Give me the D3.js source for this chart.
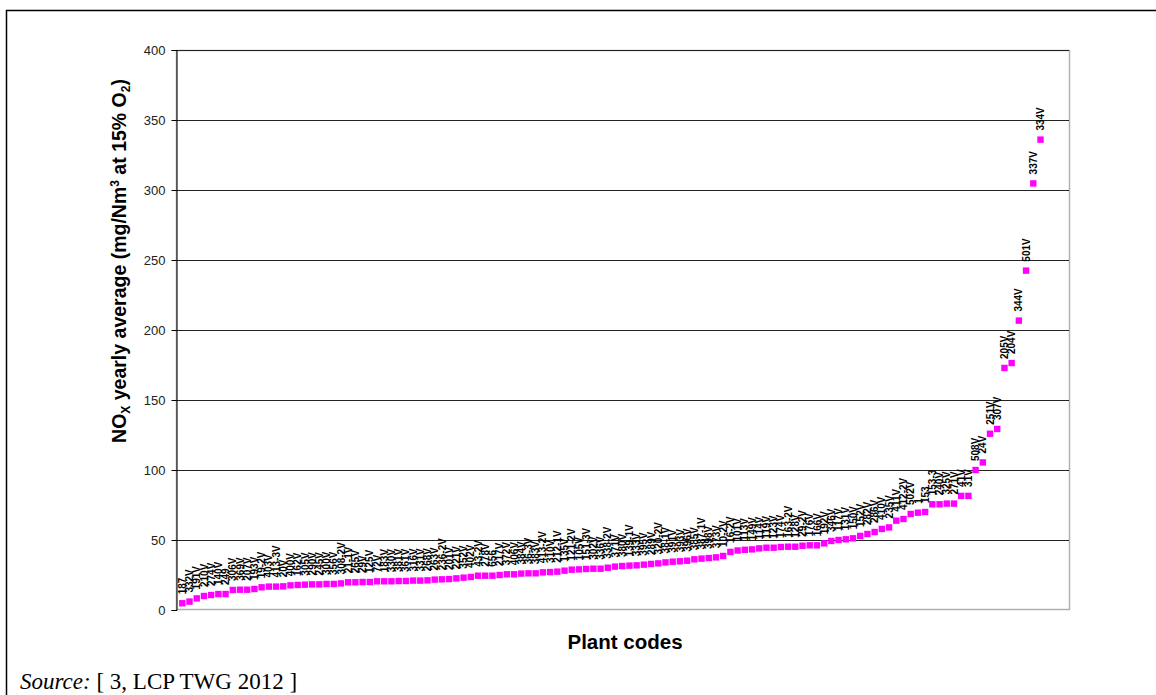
<!DOCTYPE html>
<html>
<head>
<meta charset="utf-8">
<script src="https://cdn.jsdelivr.net/npm/d3@7"></script>
<style>
  body { margin: 0; background: #fff; }
</style>
</head>
<body>
<svg id="chart" width="1156" height="695"></svg>
<script>
// Plant codes in ranked order (low -> high yearly NOx average)
const plantCodes = [
  '187', '332V', '191V', '210V', '274V', '140V', '249', '306V', '369V', '207V',
  '193V', '19-2V', '403V', '413-3V', '20V', '400V', '162V', '305V', '290V', '245V',
  '300V', '356V', '308-2V', '21-1V', '265V', '29V', '125V', '72V', '183V', '330V',
  '381V', '361V', '316V', '331V', '268V', '263V', '236-2V', '201V', '221V', '352V',
  '402V', '43-2V', '278V', '656', '217V', '372V', '406V', '384V', '36-3V', '383V',
  '413-2V', '310V', '212-1V', '135V', '121-2V', '105V', '151-3V', '302V', '336V', '338-2V',
  '371V', '380V', '139-1V', '333V', '395V', '289V', '320-2V', '38-1V', '391V', '393V',
  '396V', '385V', '387-1V', '398V', '373V', '10-2V', '16-2V', '101V', '113V', '149V',
  '114V', '119V', '123V', '174V', '163-2V', '128V', '29-2V', '176V', '166V', '192V',
  '346V', '117V', '131V', '150V', '152V', '282V', '286V', '410V', '235V', '411V',
  '412-2V', '502V', '1', '153', '153-3', '240V', '325V', '271V', '41V', '31V',
  '508V', '24V', '251V', '307V', '205V', '204V', '344V', '501V', '337V', '334V'
];

// NOx yearly average, mg/Nm3 at 15% O2
const noxValues = [
  4.8, 6.0, 8.3, 10, 10.7, 11.4, 11.4, 14.3, 14.5, 14.5,
  15, 16.2, 16.7, 16.7, 16.9, 17.6, 17.9, 18.1, 18.3, 18.3,
  18.6, 18.6, 19.0, 19.8, 19.8, 20, 20, 20.5, 20.5, 20.5,
  20.7, 20.7, 21, 21, 21.2, 21.7, 21.9, 22.1, 22.6, 23.1,
  23.6, 24.5, 24.5, 24.5, 25, 25.5, 25.5, 26, 26.2, 26.2,
  26.9, 27.1, 27.4, 28.1, 28.8, 29.0, 29.3, 29.5, 29.5, 30.2,
  31.0, 31.4, 31.7, 31.9, 32.4, 32.9, 33.3, 34.0, 34.5, 34.8,
  35.2, 36.2, 36.7, 37.1, 37.6, 38.6, 41.5, 42.5, 43, 43.3,
  44, 44.5, 44.5, 45, 45.2, 45.2, 45.9, 46.2, 46.2, 47.6,
  49.3, 50, 50.5, 51.2, 52.9, 54.3, 55.7, 57.9, 59, 63.8,
  65, 68.6, 69.5, 70, 75.5, 75.5, 76, 76, 81.5, 81.5,
  100, 105.4, 125.9, 129.3, 172.9, 176.4, 206.7, 242.4, 304.7, 336
];

const yTicks = [0, 50, 100, 150, 200, 250, 300, 350, 400];

const data = plantCodes.map((code, i) => ({ code, idx: i + 1, value: noxValues[i] }));

const sans = 'Arial, "Liberation Sans", sans-serif';
const serif = '"Times New Roman", "Liberation Serif", serif';

const svg = d3.select('#chart').style('font-family', sans);

// outer frame (page border)
svg.append('path')
  .attr('d', 'M6.5,695 V10.5 H1156')
  .attr('fill', 'none')
  .attr('stroke', '#000')
  .attr('stroke-width', 1.5);

const plot = { left: 176, right: 1069, top: 50, bottom: 610 };

const x = d3.scaleLinear().domain([1, data.length]).range([182.3, 1040.5]);
const y = d3.scaleLinear().domain([0, 400]).range([plot.bottom, plot.top]);

// plot area border
svg.append('rect')
  .attr('x', plot.left + 0.5).attr('y', plot.top + 0.5)
  .attr('width', plot.right - plot.left).attr('height', plot.bottom - plot.top - 1)
  .attr('fill', '#fff')
  .attr('stroke', '#b0b0b0')
  .attr('stroke-width', 1.5);

// gridlines
svg.append('g')
  .selectAll('line')
  .data(yTicks.filter(d => d > 0))
  .join('line')
  .attr('x1', plot.left).attr('x2', plot.right)
  .attr('y1', d => Math.round(y(d)) + 0.5).attr('y2', d => Math.round(y(d)) + 0.5)
  .attr('stroke', '#222')
  .attr('stroke-width', 1);

// y axis
const yAxis = svg.append('g')
  .attr('transform', `translate(${plot.left + 0.5},0)`)
  .call(d3.axisLeft(y).tickValues(yTicks).tickSize(5).tickPadding(6));
yAxis.selectAll('.domain, .tick line').attr('stroke', '#000');
yAxis.selectAll('text')
  .attr('fill', '#222')
  .style('font-size', '13px')
  .style('font-family', sans);

// markers
svg.append('g')
  .selectAll('rect')
  .data(data)
  .join('rect')
  .attr('x', d => x(d.idx) - 3.2)
  .attr('y', d => y(d.value) - 3.2)
  .attr('width', 6.4)
  .attr('height', 6.4)
  .attr('fill', '#ff00ff');

// rotated data labels
svg.append('g')
  .selectAll('text')
  .data(data)
  .join('text')
  .attr('transform', d => `translate(${x(d.idx) + 3.6},${y(d.value) - 9}) rotate(-90)`)
  .style('font-size', '10px')
  .style('font-weight', 'bold')
  .attr('fill', '#000')
  .text(d => d.code);

// y axis title
const yTitle = svg.append('text')
  .attr('transform', 'translate(126,261) rotate(-90)')
  .attr('text-anchor', 'middle')
  .style('font-size', '19.5px')
  .style('font-weight', 'bold')
  .attr('fill', '#000');
yTitle.append('tspan').text('NO');
yTitle.append('tspan').style('font-size', '12px').attr('dy', 4).text('X');
yTitle.append('tspan').attr('dy', -4).text(' yearly  average (mg/Nm');
yTitle.append('tspan').style('font-size', '12px').attr('dy', -7).text('3');
yTitle.append('tspan').attr('dy', 7).text(' at 15% O');
yTitle.append('tspan').style('font-size', '12px').attr('dy', 4).text('2');
yTitle.append('tspan').attr('dy', -4).text(')');

// x axis title
svg.append('text')
  .attr('x', 625)
  .attr('y', 649)
  .attr('text-anchor', 'middle')
  .style('font-size', '20.5px')
  .style('font-weight', 'bold')
  .attr('fill', '#000')
  .text('Plant codes');

// source note
const src = svg.append('text')
  .attr('x', 20)
  .attr('y', 689)
  .style('font-size', '23px')
  .style('font-family', serif)
  .attr('fill', '#000');
src.append('tspan').style('font-style', 'italic').text('Source:');
src.append('tspan').text(' [ 3, LCP TWG 2012 ]');
</script>
</body>
</html>
